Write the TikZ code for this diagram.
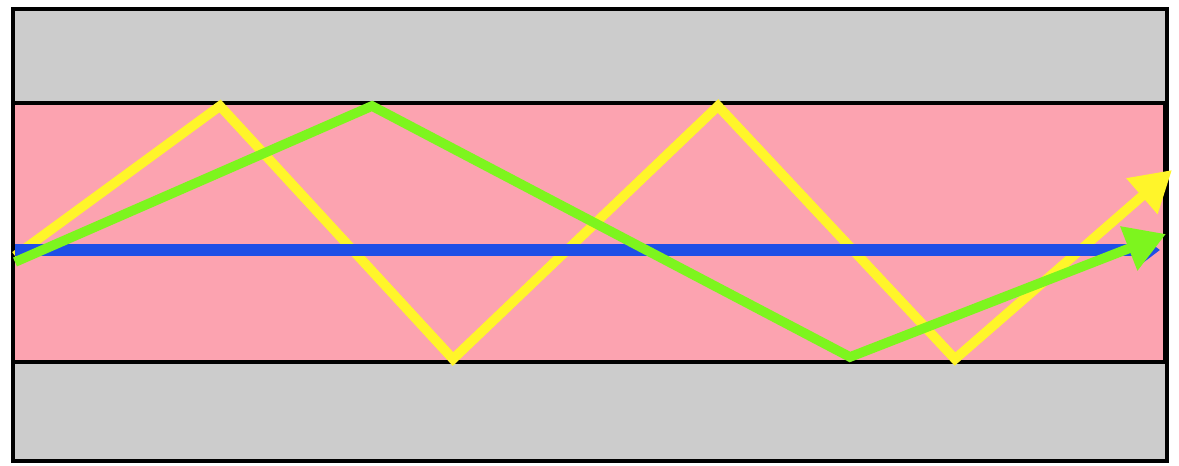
\documentclass[tikz,border=0pt]{standalone}
\usepackage{tikz}
\usetikzlibrary{arrows.meta}
\definecolor{cladgray}{HTML}{CCCCCC}
\definecolor{corepink}{HTML}{FCA3B0}
\definecolor{rayyellow}{HTML}{FFF52A}
\definecolor{raygreen}{HTML}{7DF51E}
\definecolor{rayblue}{HTML}{1F4FE6}
\tikzset{
  clad/.style={draw=black, line width=2.2pt, fill=cladgray},
  core/.style={draw=black, line width=2.2pt, fill=corepink},
  ray/.style={line width=5.5pt, line join=miter, -{Triangle[length=0.8cm, width=0.9cm]}},
  axial/.style={line width=7pt, -{Triangle[length=0.45cm, width=0.65cm]}}
}

\begin{document}
\begin{tikzpicture}[x=0.02cm, y=-0.02cm]
  \useasboundingbox (0,0) rectangle (1179,466);
  % cladding and core
  \draw[clad] (13,9) rectangle (1167,461);
  \draw[core] (13,103) rectangle (1165,362);

  % bounce points
  \coordinate (start) at (15,256);
  \coordinate (y1) at (220,106);
  \coordinate (y2) at (453,359);
  \coordinate (y3) at (718,106);
  \coordinate (y4) at (955,359);
  \coordinate (yend) at (1172,170);
  \coordinate (g1) at (372,106);
  \coordinate (g2) at (850,357);
  \coordinate (gend) at (1166,234);
  \coordinate (bend) at (1160,250);

  % rays
  \draw[ray, draw=rayyellow] (start) -- (y1) -- (y2) -- (y3) -- (y4) -- (yend);
  \draw[axial, draw=rayblue] (15,250) -- (bend);
  \draw[ray, draw=raygreen] (15,262) -- (g1) -- (g2) -- (gend);
\end{tikzpicture}
\end{document}
